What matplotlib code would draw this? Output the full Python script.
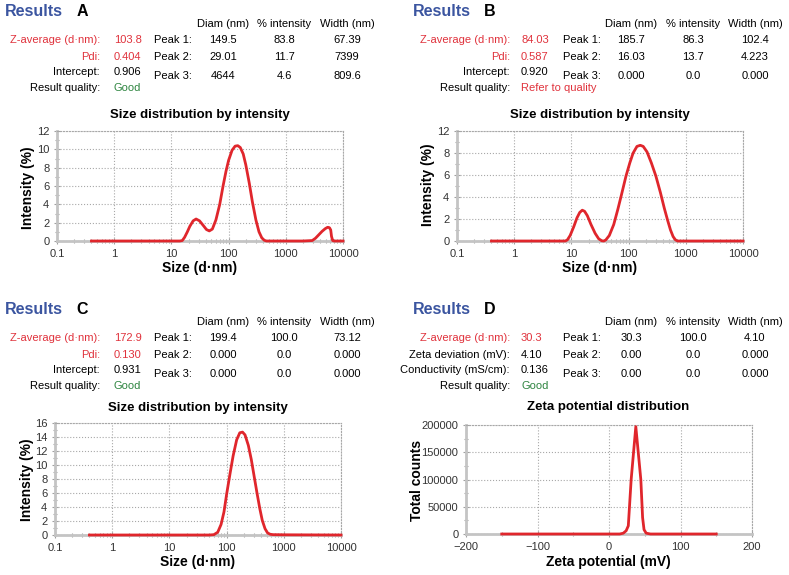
import numpy as np
import matplotlib.pyplot as plt
from matplotlib.ticker import FixedLocator, LogLocator, NullFormatter, MultipleLocator

plt.rcParams['font.family'] = ['Liberation Sans', 'DejaVu Sans']

W, H = 789, 575
RED = '#e0323c'
GREEN = '#2e8540'
BLUE = '#3b55a0'
LINE = '#e0262c'

# ---- data ----
# A: size distribution by intensity
sizeA = [0.4, 1, 5, 10, 14, 15.5, 17, 19, 21, 24, 27, 31, 36, 41, 46, 52, 60, 70, 80, 90,
         100, 115, 130, 145, 160, 180, 200, 230, 260, 300, 340, 380, 420, 460, 1000, 2000,
         2900, 3300, 3800, 4300, 4900, 5400, 5800, 6100, 6300, 6600, 7000, 10000]
intA = [0, 0, 0, 0, 0, 0.05, 0.4, 1.0, 1.6, 2.2, 2.4, 2.2, 1.7, 1.25, 1.1, 1.3, 2.3, 4.0, 6.0, 7.6,
        8.8, 9.9, 10.35, 10.4, 10.2, 9.5, 8.3, 6.3, 4.3, 2.3, 1.0, 0.35, 0.08, 0, 0, 0,
        0.05, 0.3, 0.7, 1.05, 1.35, 1.5, 1.45, 1.2, 0.5, 0.05, 0, 0]
# B
sizeB = [0.4, 1, 5, 7.8, 8.5, 9.5, 11, 12.5, 14, 15.5, 17, 19, 22, 26, 30, 34, 37, 40, 46, 55,
         65, 75, 90, 105, 120, 140, 160, 180, 210, 250, 300, 360, 420, 480, 540, 600, 660, 720,
         1000, 10000]
intB = [0, 0, 0, 0, 0.1, 0.5, 1.3, 2.1, 2.6, 2.8, 2.7, 2.3, 1.5, 0.7, 0.2, 0.02, 0, 0.1, 0.5, 1.5,
        2.9, 4.2, 5.9, 7.1, 8.0, 8.6, 8.7, 8.6, 8.1, 7.1, 5.9, 4.4, 3.0, 1.9, 1.0, 0.4, 0.1, 0,
        0, 0]
# C
sizeC = [0.4, 1, 10, 50, 60, 70, 80, 90, 100, 115, 130, 150, 170, 190, 210, 240, 270, 300,
         340, 380, 420, 470, 520, 580, 650, 1000, 10000]
intC = [0, 0, 0, 0, 0.05, 0.4, 1.5, 3.3, 5.8, 8.8, 11.3, 13.6, 14.6, 14.7, 14.3, 12.8, 10.8, 8.6,
        6.0, 3.8, 2.1, 0.9, 0.3, 0.1, 0.05, 0.03, 0]
# D: zeta potential distribution
zetaD = [-150, -100, 0, 15, 20, 24, 27, 31, 37.5, 44.5, 47, 49, 52, 58, 100, 150]
countsD = [0, 0, 0, 0, 1500, 6000, 15000, 100000, 197000, 100000, 30000, 8000, 1500, 0, 0, 0]

size_ticks = [0.1, 1, 10, 100, 1000, 10000]
size_labels = ['0.1', '1', '10', '100', '1000', '10000']

headers = ['Diam (nm)', '% intensity', 'Width (nm)']
labelsA = [('Z-average (d·nm):', '103.8', RED), ('Pdi:', '0.404', RED), ('Intercept:', '0.906', 'black')]
peaksA = [('149.5', '83.8', '67.39'), ('29.01', '11.7', '7399'), ('4644', '4.6', '809.6')]
labelsB = [('Z-average (d·nm):', '84.03', RED), ('Pdi:', '0.587', RED), ('Intercept:', '0.920', 'black')]
peaksB = [('185.7', '86.3', '102.4'), ('16.03', '13.7', '4.223'), ('0.000', '0.0', '0.000')]
labelsC = [('Z-average (d·nm):', '172.9', RED), ('Pdi:', '0.130', RED), ('Intercept:', '0.931', 'black')]
peaksC = [('199.4', '100.0', '73.12'), ('0.000', '0.0', '0.000'), ('0.000', '0.0', '0.000')]
labelsD = [('Z-average (d·nm):', '30.3', RED), ('Zeta deviation (mV):', '4.10', 'black'),
           ('Conductivity (mS/cm):', '0.136', 'black')]
peaksD = [('30.3', '100.0', '4.10'), ('0.00', '0.0', '0.000'), ('0.00', '0.0', '0.000')]

fig = plt.figure(figsize=(W / 100, H / 100), dpi=100)


def ftxt(x, y, s, **kw):
    fig.text(x / W, 1 - y / H, s, **kw)


def make_ax(l, t, r, b):
    return fig.add_axes([l / W, 1 - b / H, (r - l) / W, (b - t) / H])


def style(ax):
    for s in ['left', 'bottom']:
        ax.spines[s].set_color('#c4c4c4')
        ax.spines[s].set_linewidth(2)
    for s in ['top', 'right']:
        ax.spines[s].set_color('#a8a8a8')
        ax.spines[s].set_linewidth(0.8)
        ax.spines[s].set_linestyle(':')
    ax.grid(True, which='major', color='#a8a8a8', linestyle=':', linewidth=0.8)
    ax.tick_params(which='both', direction='inout', color='#a0a0a0', labelsize=8,
                   labelcolor='#333333', width=0.8)
    ax.tick_params(which='major', length=4)
    ax.tick_params(which='minor', length=3)


def panel(x0, y0, letter, labels, peaks, quality, qcolor, cols):
    lab_r, val_l, peak_l, c1, c2, c3 = cols
    ftxt(x0, y0, 'Results', fontsize=11.5, fontweight='bold', color=BLUE, va='center')
    ftxt(x0 + 77, y0, letter, fontsize=11.5, fontweight='bold', color='black', va='center', ha='center')
    for cx, h in zip([c1, c2, c3], headers):
        ftxt(cx, y0 + 12, h, fontsize=8, ha='center', va='center')
    for i, (lab, val, col) in enumerate(labels):
        yy = y0 + [28, 45, 60][i]
        ftxt(lab_r, yy, lab, fontsize=8, ha='right', va='center', color=col)
        ftxt(val_l, yy, val, fontsize=8, ha='left', va='center', color=col)
    for i, row in enumerate(peaks):
        yy = y0 + [28, 45, 64][i]
        ftxt(peak_l, yy, 'Peak %d:' % (i + 1), fontsize=8, ha='left', va='center')
        for cx, v in zip([c1, c2, c3], row):
            ftxt(cx, yy, v, fontsize=8, ha='center', va='center')
    ftxt(lab_r, y0 + 76, 'Result quality:', fontsize=8, ha='right', va='center')
    ftxt(val_l, y0 + 76, quality, fontsize=8, ha='left', va='center', color=qcolor)


colsL = (100, 114, 154, 223, 284, 347)
colsR = (510, 521, 563, 631, 693, 755)
panel(5, 12, 'A', labelsA, peaksA, 'Good', GREEN, colsL)
panel(413, 12, 'B', labelsB, peaksB, 'Refer to quality', RED, colsR)
panel(5, 310, 'C', labelsC, peaksC, 'Good', GREEN, colsL)
panel(413, 310, 'D', labelsD, peaksD, 'Good', GREEN, colsR)


def size_plot(ax, x, y, ymax, yticks, ylabels):
    ax.plot(x, y, color=LINE, lw=2, clip_on=False, zorder=5)
    ax.set_xscale('log')
    ax.set_xlim(0.1, 10000)
    ax.set_ylim(0, ymax)
    ax.xaxis.set_major_locator(FixedLocator(size_ticks))
    ax.set_xticklabels(size_labels)
    ax.xaxis.set_minor_locator(LogLocator(base=10, subs=np.arange(2, 10)))
    ax.xaxis.set_minor_formatter(NullFormatter())
    ax.set_yticks(yticks)
    ax.set_yticklabels(ylabels)
    ax.yaxis.set_minor_locator(MultipleLocator(1))
    style(ax)


axA = make_ax(57, 131, 343, 241)
size_plot(axA, sizeA, intA, 12, [0, 2, 4, 6, 8, 10, 12], ['0', '2', '4', '6', '8', '10', '12'])
axB = make_ax(457, 131, 743, 241)
size_plot(axB, sizeB, intB, 10, [0, 2, 4, 6, 8, 10], ['0', '2', '4', '6', '8', '12'])
axC = make_ax(55, 423, 341, 535)
size_plot(axC, sizeC, intC, 16, list(range(0, 17, 2)), [str(v) for v in range(0, 17, 2)])

axD = make_ax(466, 425, 752, 534)
axD.plot(zetaD, countsD, color=LINE, lw=2, clip_on=False, zorder=5)
axD.set_xlim(-200, 200)
axD.set_ylim(0, 200000)
axD.set_xticks([-200, -100, 0, 100, 200])
axD.xaxis.set_minor_locator(MultipleLocator(50))
axD.set_yticks([0, 50000, 100000, 150000, 200000])
axD.set_yticklabels(['0', '50000', '100000', '150000', '200000'])
axD.yaxis.set_minor_locator(MultipleLocator(25000))
style(axD)

# titles and axis labels
for cx, cy, s in [(200, 115, 'Size distribution by intensity'), (600, 115, 'Size distribution by intensity'),
                  (198, 408, 'Size distribution by intensity'), (608, 407, 'Zeta potential distribution')]:
    ftxt(cx, cy, s, fontsize=9.5, fontweight='bold', ha='center', va='center')
for cx, cy, s in [(200, 268, 'Size (d·nm)'), (600, 268, 'Size (d·nm)'),
                  (198, 562, 'Size (d·nm)'), (608, 562, 'Zeta potential (mV)')]:
    ftxt(cx, cy, s, fontsize=10, fontweight='bold', ha='center', va='center')
for cx, cy, s in [(28, 188, 'Intensity (%)'), (428, 185, 'Intensity (%)'),
                  (27, 480, 'Intensity (%)'), (417, 480, 'Total counts')]:
    ftxt(cx, cy, s, fontsize=10, fontweight='bold', ha='center', va='center', rotation=90)

fig.savefig('out.png', dpi=100)
